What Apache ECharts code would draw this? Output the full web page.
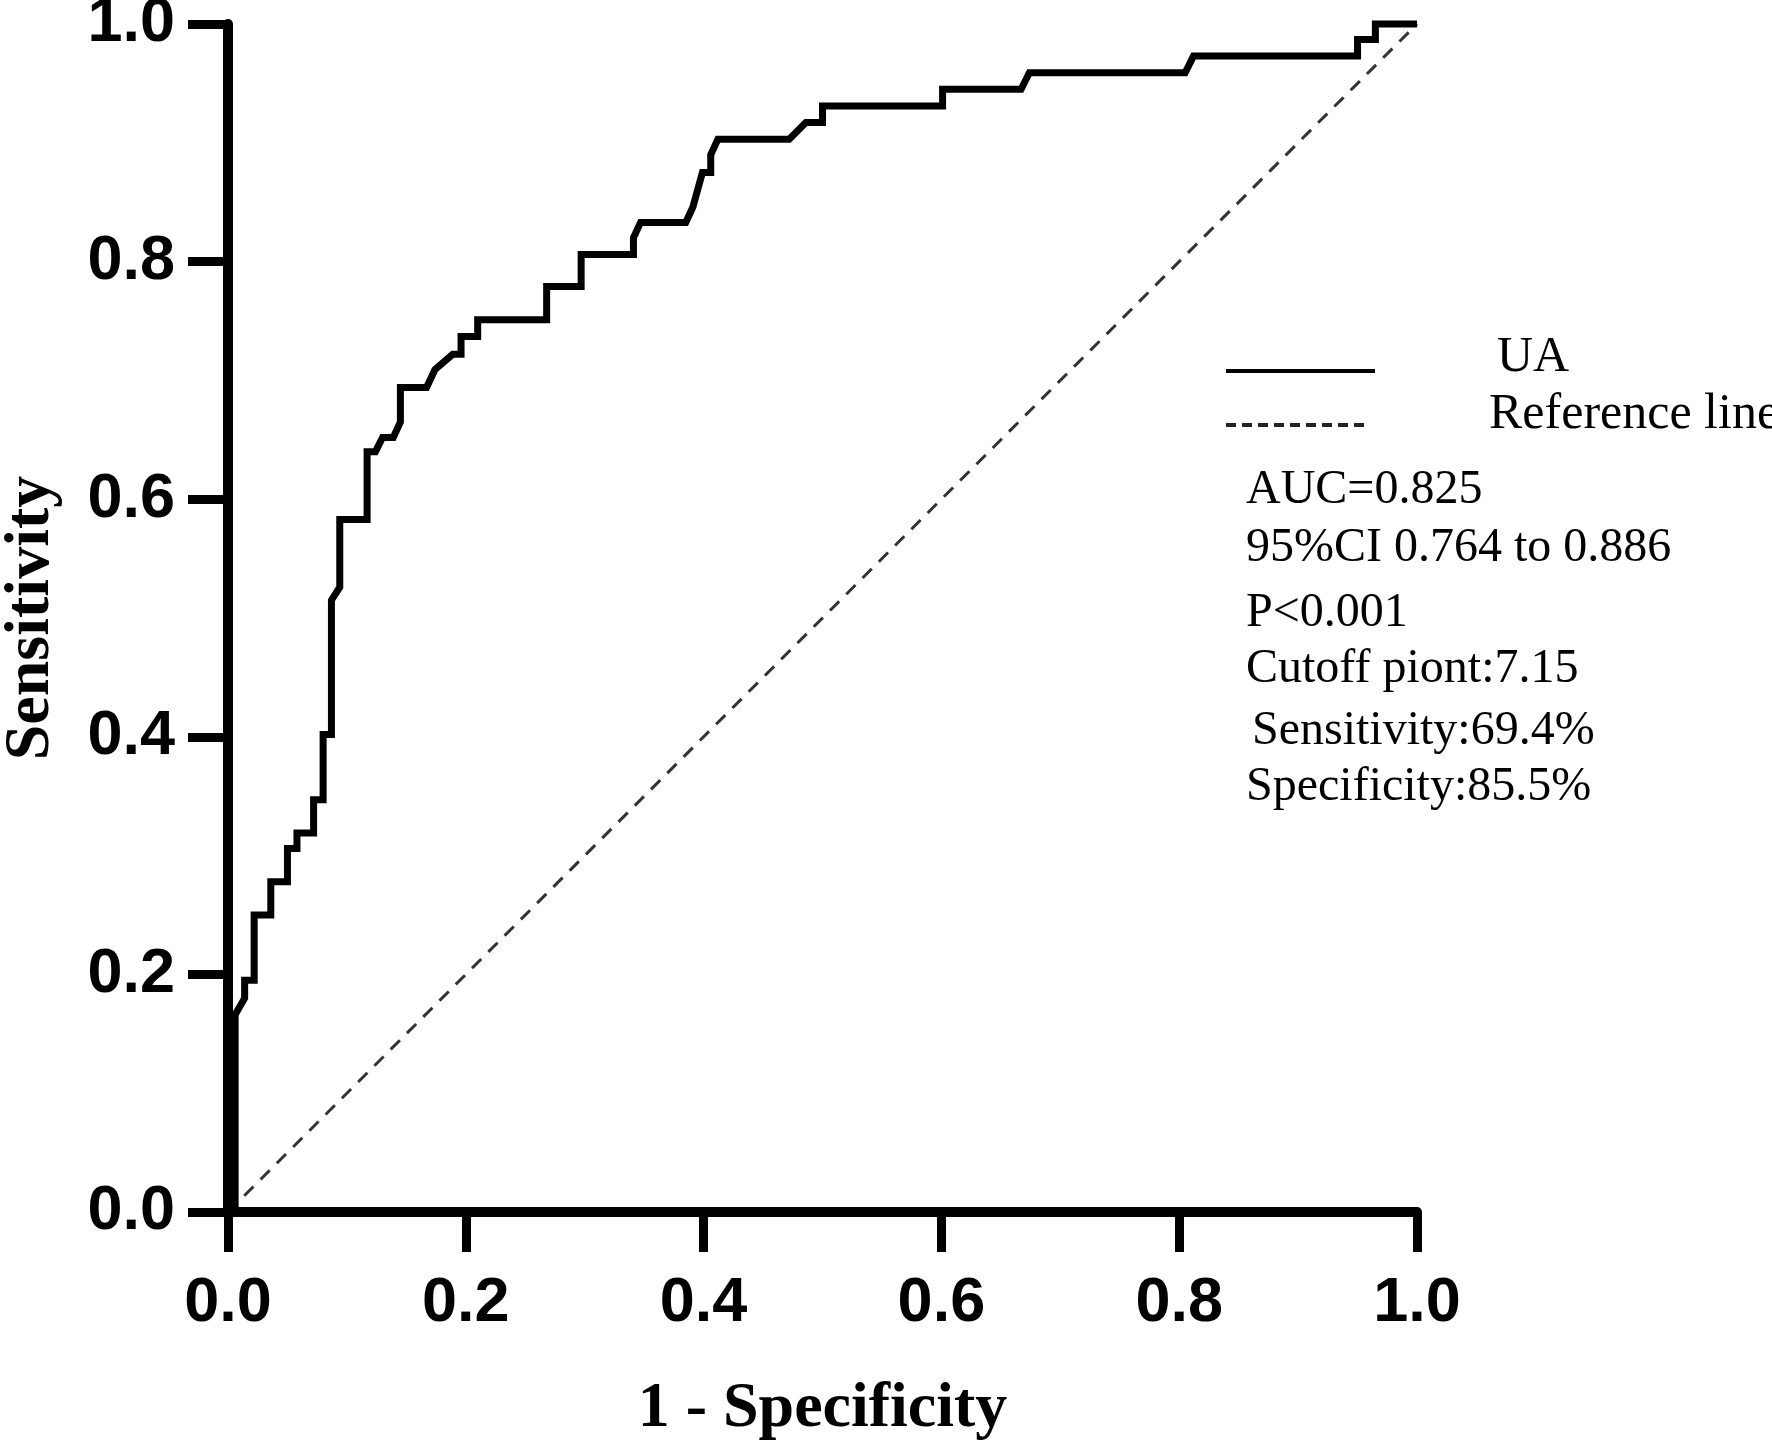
<!DOCTYPE html>
<html>
<head>
<meta charset="utf-8">
<title>ROC curve - UA</title>
<script src="https://cdn.jsdelivr.net/npm/echarts@6/dist/echarts.min.js"></script>
<style>
  html, body { margin: 0; padding: 0; background: #fff; }
  #roc { width: 1772px; height: 1443px; }
</style>
</head>
<body>
<div id="roc"></div>
<script>
// ROC curve points (1 - specificity, sensitivity)
var fpr = [0, 0.006, 0.006, 0.014, 0.014, 0.022, 0.022, 0.036, 0.036, 0.050, 0.050,
  0.058, 0.058, 0.072, 0.072, 0.080, 0.080, 0.087, 0.087, 0.094, 0.094, 0.117, 0.117,
  0.124, 0.130, 0.139, 0.145, 0.145, 0.167, 0.174, 0.189, 0.196, 0.196, 0.210, 0.210,
  0.268, 0.268, 0.297, 0.297, 0.341, 0.341, 0.347, 0.385, 0.391, 0.399, 0.406, 0.406,
  0.412, 0.472, 0.486, 0.500, 0.500, 0.601, 0.601, 0.667, 0.674, 0.805, 0.812, 0.950,
  0.950, 0.965, 0.965, 1.0];
var tpr = [0, 0.005, 0.166, 0.180, 0.195, 0.195, 0.250, 0.250, 0.278, 0.278, 0.306,
  0.306, 0.319, 0.319, 0.347, 0.347, 0.402, 0.402, 0.515, 0.526, 0.583, 0.583, 0.640,
  0.640, 0.652, 0.652, 0.665, 0.694, 0.694, 0.709, 0.722, 0.722, 0.737, 0.737, 0.751,
  0.751, 0.779, 0.779, 0.806, 0.806, 0.820, 0.833, 0.833, 0.846, 0.875, 0.875, 0.890,
  0.903, 0.903, 0.917, 0.917, 0.931, 0.931, 0.945, 0.945, 0.959, 0.959, 0.973, 0.973,
  0.987, 0.987, 1.0, 1.0];

// diagonal reference line
var refX = [0, 1];
var refY = [0, 1];

var seriesNames = ['UA', 'Reference line'];
var notes = [
  'AUC=0.825',
  '95%CI 0.764 to 0.886',
  'P<0.001',
  'Cutoff piont:7.15',
  'Sensitivity:69.4%',
  'Specificity:85.5%'
];

var chart = echarts.init(document.getElementById('roc'));

var sans = "'Liberation Sans', Arial, sans-serif";
var serif = "'Liberation Serif', 'Times New Roman', serif";

function axisCommon(name, gap) {
  return {
    type: 'value',
    min: 0,
    max: 1,
    interval: 0.2,
    name: name,
    nameLocation: 'middle',
    nameGap: gap,
    nameTextStyle: { fontFamily: serif, fontWeight: 'bold', fontSize: 64, color: '#000' },
    axisLine: { show: true, onZero: false, lineStyle: { color: '#000', width: 10 } },
    axisTick: { show: true, inside: false, length: 40, lineStyle: { color: '#000', width: 9 } },
    splitLine: { show: false },
    axisLabel: {
      fontFamily: sans,
      fontWeight: 'bold',
      fontSize: 63,
      color: '#000',
      formatter: function (v) { return v.toFixed(1); }
    }
  };
}

var xAxis = axisCommon('1 - Specificity', 165);
xAxis.axisLabel.margin = 60;
var yAxis = axisCommon('Sensitivity', 165);
yAxis.axisLabel.margin = 53;

// legend and annotation text drawn as graphics
var graphics = [
  { type: 'line', shape: { x1: 1226, y1: 371, x2: 1375, y2: 371 }, style: { stroke: '#000', lineWidth: 4 } },
  { type: 'line', shape: { x1: 1226, y1: 425, x2: 1367, y2: 425 }, style: { stroke: '#222', lineWidth: 4, lineDash: [10, 6] } },
  { type: 'text', x: 1497, y: 358, style: { text: seriesNames[0], font: '50px ' + serif, fill: '#000', verticalAlign: 'middle' } },
  { type: 'text', x: 1489, y: 415, style: { text: seriesNames[1], font: '50px ' + serif, fill: '#000', verticalAlign: 'middle' } }
];
var noteX = [1246, 1246, 1246, 1246, 1252, 1246];
var noteBase = [507, 565, 630, 686, 748, 804];
for (var i = 0; i < notes.length; i++) {
  graphics.push({
    type: 'text',
    x: noteX[i],
    y: noteBase[i] - 17,
    style: { text: notes[i], font: '48px ' + serif, fill: '#000', verticalAlign: 'middle' }
  });
}

chart.setOption({
  backgroundColor: '#fff',
  animation: false,
  grid: { left: 228, right: 355, top: 24, bottom: 231, containLabel: false, outerBoundsMode: 'none' },
  xAxis: xAxis,
  yAxis: yAxis,
  graphic: graphics,
  series: [
    {
      name: seriesNames[1],
      type: 'line',
      data: refX.map(function (x, i) { return [x, refY[i]]; }),
      symbol: 'none',
      clip: false,
      z: 3,
      lineStyle: { color: '#333', width: 3, type: [13, 10] }
    },
    {
      name: seriesNames[0],
      type: 'line',
      data: fpr.map(function (x, i) { return [x, tpr[i]]; }),
      symbol: 'none',
      clip: false,
      z: 4,
      lineStyle: { color: '#000', width: 7, join: 'miter', cap: 'butt' }
    }
  ]
});
</script>
</body>
</html>
